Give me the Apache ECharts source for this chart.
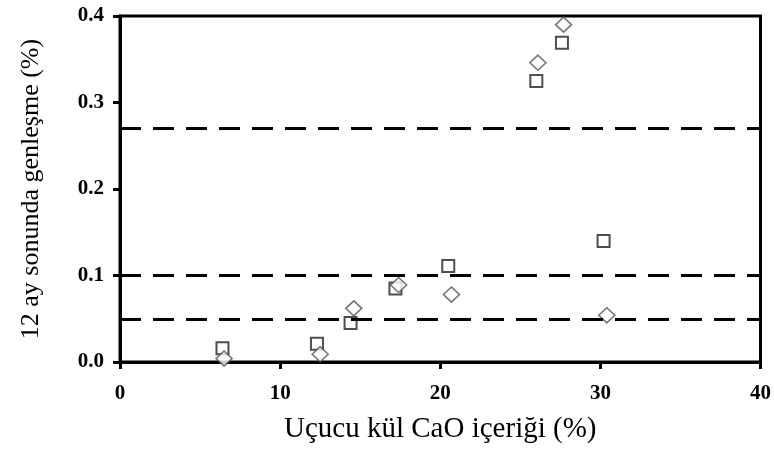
<!DOCTYPE html>
<html>
<head>
<meta charset="utf-8">
<script src="https://cdn.jsdelivr.net/npm/echarts@6/dist/echarts.min.js"></script>
<style>
  html, body { margin: 0; padding: 0; background: #fff; }
  #chart { width: 774px; height: 452px; }
</style>
</head>
<body>
<div id="chart"></div>
<script>
// Fly ash CaO content (%) vs. 12-month expansion (%), two specimen sets
const caoSquares = [6.4, 12.3, 14.4, 17.2, 20.5, 26.0, 27.6, 30.2];
const expSquares = [0.016, 0.021, 0.045, 0.085, 0.111, 0.325, 0.369, 0.140];
const caoDiamonds = [6.5, 12.5, 14.6, 17.4, 20.7, 26.1, 27.7, 30.4];
const expDiamonds = [0.004, 0.009, 0.062, 0.089, 0.078, 0.346, 0.390, 0.054];
// Horizontal reference (limit) levels
const limitLevels = [0.268, 0.1, 0.05];

const xTitle = 'Uçucu kül CaO içeriği (%)';
const yTitle = '12 ay sonunda genleşme (%)';

const serif = '"Liberation Serif", "Times New Roman", serif';

function pairs(xs, ys) {
  return xs.map((x, i) => [x, ys[i]]);
}

const chart = echarts.init(document.getElementById('chart'), null, { renderer: 'canvas' });

chart.setOption({
  animation: false,
  backgroundColor: '#fff',
  grid: {
    left: 120, right: 13, top: 16, bottom: 90,
    show: true, borderColor: '#000', borderWidth: 3, backgroundColor: 'transparent'
  },
  xAxis: {
    type: 'value', min: 0, max: 40, interval: 10,
    name: xTitle, nameLocation: 'middle', nameGap: 53,
    nameTextStyle: { fontFamily: serif, fontSize: 29, color: '#000' },
    axisLine: { show: true, lineStyle: { color: '#000', width: 3 } },
    axisTick: { show: true, inside: false, length: 7, lineStyle: { color: '#000', width: 3 } },
    axisLabel: { fontFamily: serif, fontWeight: 'bold', fontSize: 21, color: '#000', margin: 21 },
    splitLine: { show: false }
  },
  yAxis: {
    type: 'value', min: 0, max: 0.4, interval: 0.1,
    name: yTitle, nameLocation: 'middle', nameGap: 76, nameRotate: 90,
    nameTextStyle: { fontFamily: serif, fontSize: 26, color: '#000' },
    axisLine: { show: true, lineStyle: { color: '#000', width: 3 } },
    axisTick: { show: true, inside: false, length: 7, lineStyle: { color: '#000', width: 3 } },
    axisLabel: {
      fontFamily: serif, fontWeight: 'bold', fontSize: 21, color: '#000', margin: 16,
      formatter: v => v.toFixed(1)
    },
    splitLine: { show: false }
  },
  series: [
    {
      // dashed limit lines
      type: 'scatter', data: [], z: 1, silent: true,
      markLine: {
        silent: true, symbol: 'none', animation: false,
        label: { show: false },
        lineStyle: { color: '#000', width: 3, type: [21, 12] },
        data: limitLevels.map(v => ({ yAxis: v }))
      }
    },
    {
      type: 'scatter', z: 2,
      data: pairs(caoSquares, expSquares),
      symbol: 'rect', symbolSize: 12,
      itemStyle: { color: '#fff', borderColor: '#222', borderWidth: 2 }
    },
    {
      type: 'scatter', z: 3,
      data: pairs(caoDiamonds, expDiamonds),
      symbol: 'diamond', symbolSize: [16, 15],
      itemStyle: { color: '#fff', borderColor: '#555', borderWidth: 1.6 }
    }
  ]
});
</script>
</body>
</html>
